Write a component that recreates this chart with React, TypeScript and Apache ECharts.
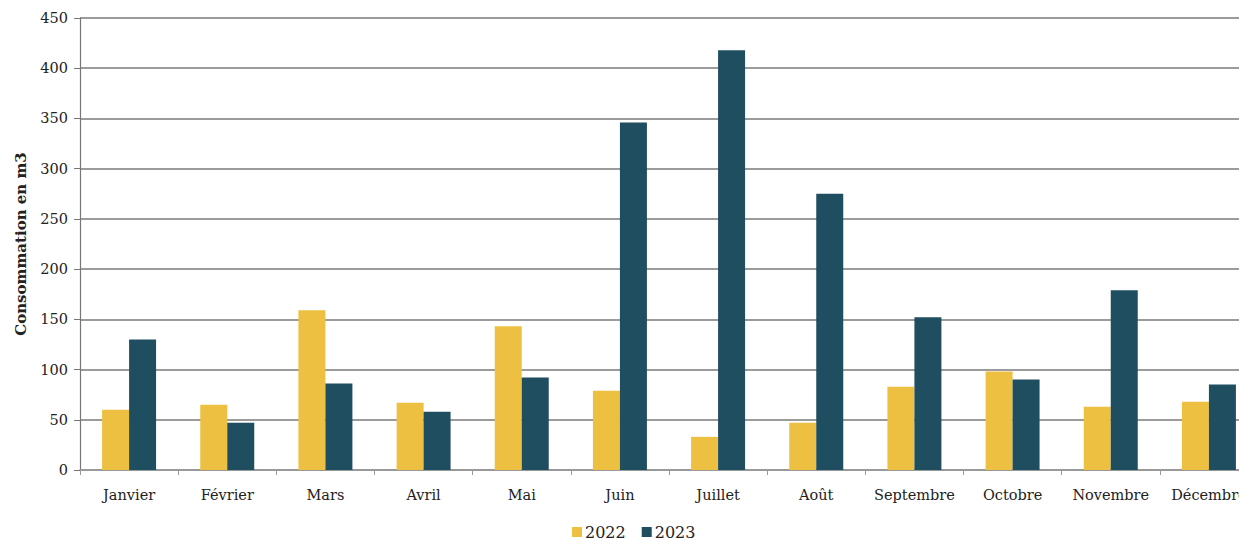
import React, { useEffect, useRef } from "react";
import * as echarts from "echarts";

const months = ["Janvier", "Février", "Mars", "Avril", "Mai", "Juin", "Juillet", "Août", "Septembre", "Octobre", "Novembre", "Décembre"];
const values2022 = [60, 65, 159, 67, 143, 79, 33, 47, 83, 98, 63, 68];
const values2023 = [130, 47, 86, 58, 92, 346, 418, 275, 152, 90, 179, 85];
const yMin = 0;
const yMax = 450;
const yInterval = 50;

const FONT = "'DejaVu Serif', 'Liberation Serif', serif";

export default function App() {
  const ref = useRef<HTMLDivElement>(null);
  useEffect(() => {
    if (!ref.current) return;
    const chart = echarts.init(ref.current, null, { renderer: "svg" });
    chart.setOption({
      animation: false,
      backgroundColor: "#ffffff",
      grid: {
        left: 72,
        width: 1178,
        top: 10,
        height: 452,
        containLabel: false,
        outerBoundsMode: "none",
      },
      legend: {
        top: 511,
        left: 559,
        itemWidth: 10,
        itemHeight: 10,
        itemGap: 16,
        icon: "rect",
        textStyle: { fontFamily: FONT, fontSize: 16, color: "#222", padding: [0, 0, 0, -2] },
        data: ["2022", "2023"],
      },
      xAxis: {
        type: "category",
        data: months,
        axisLine: { show: true, lineStyle: { color: "#999", width: 1.5 } },
        axisTick: { show: true, alignWithLabel: false, length: 5, lineStyle: { color: "#999" } },
        axisLabel: { fontFamily: FONT, fontSize: 14.5, color: "#222", margin: 17, interval: 0 },
      },
      yAxis: {
        type: "value",
        min: yMin,
        max: yMax,
        interval: yInterval,
        name: "Consommation en m3",
        nameLocation: "middle",
        nameGap: 52,
        nameTextStyle: { fontFamily: FONT, fontSize: 15, fontWeight: "bold", color: "#222" },
        axisLine: { show: true, lineStyle: { color: "#777", width: 1.2 } },
        axisTick: { show: true, length: 6, lineStyle: { color: "#777" } },
        axisLabel: { fontFamily: FONT, fontSize: 14.5, color: "#222", margin: 12 },
        splitLine: { show: true, lineStyle: { color: "#7a7a7a", width: 1.5 } },
      },
      series: [
        {
          name: "2022",
          type: "bar",
          data: values2022,
          itemStyle: { color: "#EDC042" },
          barGap: "0%",
          barCategoryGap: "45%",
        },
        {
          name: "2023",
          type: "bar",
          data: values2023,
          itemStyle: { color: "#1F4E60" },
          barGap: "0%",
          barCategoryGap: "45%",
        },
      ],
    });
    return () => chart.dispose();
  }, []);
  return <div ref={ref} style={{ width: 1239, height: 532 }} />;
}
